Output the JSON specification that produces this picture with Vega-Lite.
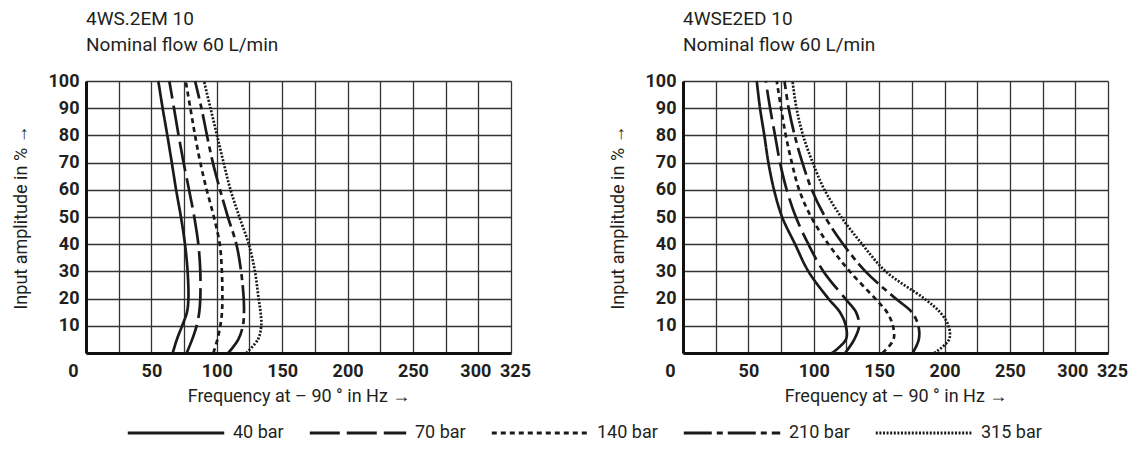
{
"$schema": "https://vega.github.io/schema/vega-lite/v6.json",
"background": "white",
"padding": {"left": 12, "top": 10, "right": 5, "bottom": 5},
"datasets": {"curves": [
{"c":"L","s":"40 bar","a":100,"f":55.3},{"c":"L","s":"40 bar","a":90,"f":58.6},{"c":"L","s":"40 bar","a":80,"f":62.2},{"c":"L","s":"40 bar","a":70,"f":65.6},{"c":"L","s":"40 bar","a":60,"f":68.9},{"c":"L","s":"40 bar","a":50,"f":72.6},{"c":"L","s":"40 bar","a":40,"f":75.7},{"c":"L","s":"40 bar","a":30,"f":77.7},{"c":"L","s":"40 bar","a":20,"f":78.3},{"c":"L","s":"40 bar","a":15,"f":77.2},{"c":"L","s":"40 bar","a":10,"f":73.5},{"c":"L","s":"40 bar","a":5,"f":69.5},{"c":"L","s":"40 bar","a":0,"f":66.3},
{"c":"L","s":"70 bar","a":100,"f":63.7},{"c":"L","s":"70 bar","a":90,"f":67.3},{"c":"L","s":"70 bar","a":80,"f":70.8},{"c":"L","s":"70 bar","a":70,"f":74.6},{"c":"L","s":"70 bar","a":60,"f":78.8},{"c":"L","s":"70 bar","a":50,"f":82.8},{"c":"L","s":"70 bar","a":40,"f":85.9},{"c":"L","s":"70 bar","a":30,"f":87.4},{"c":"L","s":"70 bar","a":20,"f":87.4},{"c":"L","s":"70 bar","a":15,"f":86.6},{"c":"L","s":"70 bar","a":10,"f":84.6},{"c":"L","s":"70 bar","a":5,"f":81.2},{"c":"L","s":"70 bar","a":0,"f":77},
{"c":"L","s":"140 bar","a":100,"f":76.2},{"c":"L","s":"140 bar","a":90,"f":79.8},{"c":"L","s":"140 bar","a":80,"f":83.4},{"c":"L","s":"140 bar","a":70,"f":87.4},{"c":"L","s":"140 bar","a":60,"f":92.3},{"c":"L","s":"140 bar","a":50,"f":97.8},{"c":"L","s":"140 bar","a":40,"f":102.3},{"c":"L","s":"140 bar","a":30,"f":103.9},{"c":"L","s":"140 bar","a":20,"f":104.3},{"c":"L","s":"140 bar","a":15,"f":104},{"c":"L","s":"140 bar","a":10,"f":102.7},{"c":"L","s":"140 bar","a":5,"f":100.5},{"c":"L","s":"140 bar","a":0,"f":97.4},
{"c":"L","s":"210 bar","a":100,"f":83.4},{"c":"L","s":"210 bar","a":90,"f":88.3},{"c":"L","s":"210 bar","a":80,"f":92.5},{"c":"L","s":"210 bar","a":70,"f":97},{"c":"L","s":"210 bar","a":60,"f":102.5},{"c":"L","s":"210 bar","a":50,"f":108.5},{"c":"L","s":"210 bar","a":40,"f":115},{"c":"L","s":"210 bar","a":30,"f":118.6},{"c":"L","s":"210 bar","a":20,"f":120.6},{"c":"L","s":"210 bar","a":15,"f":120.8},{"c":"L","s":"210 bar","a":10,"f":120},{"c":"L","s":"210 bar","a":5,"f":116.5},{"c":"L","s":"210 bar","a":0,"f":108.8},
{"c":"L","s":"315 bar","a":100,"f":90.2},{"c":"L","s":"315 bar","a":90,"f":95.2},{"c":"L","s":"315 bar","a":80,"f":100.2},{"c":"L","s":"315 bar","a":70,"f":105.2},{"c":"L","s":"315 bar","a":60,"f":110.5},{"c":"L","s":"315 bar","a":50,"f":117.3},{"c":"L","s":"315 bar","a":40,"f":124.5},{"c":"L","s":"315 bar","a":30,"f":129.2},{"c":"L","s":"315 bar","a":20,"f":132},{"c":"L","s":"315 bar","a":15,"f":133.5},{"c":"L","s":"315 bar","a":10,"f":134},{"c":"L","s":"315 bar","a":5,"f":131.5},{"c":"L","s":"315 bar","a":0,"f":122.6},
{"c":"R","s":"40 bar","a":100,"f":56.4},{"c":"R","s":"40 bar","a":90,"f":58.9},{"c":"R","s":"40 bar","a":80,"f":62.2},{"c":"R","s":"40 bar","a":70,"f":65.3},{"c":"R","s":"40 bar","a":60,"f":69.6},{"c":"R","s":"40 bar","a":50,"f":75.8},{"c":"R","s":"40 bar","a":40,"f":85.7},{"c":"R","s":"40 bar","a":30,"f":95.9},{"c":"R","s":"40 bar","a":20,"f":111.2},{"c":"R","s":"40 bar","a":15,"f":120},{"c":"R","s":"40 bar","a":10,"f":124.5},{"c":"R","s":"40 bar","a":5,"f":124.6},{"c":"R","s":"40 bar","a":0,"f":114},
{"c":"R","s":"70 bar","a":100,"f":63.3},{"c":"R","s":"70 bar","a":90,"f":66.6},{"c":"R","s":"70 bar","a":80,"f":70.4},{"c":"R","s":"70 bar","a":70,"f":74.2},{"c":"R","s":"70 bar","a":60,"f":79.3},{"c":"R","s":"70 bar","a":50,"f":86.3},{"c":"R","s":"70 bar","a":40,"f":95.9},{"c":"R","s":"70 bar","a":30,"f":107.4},{"c":"R","s":"70 bar","a":20,"f":124},{"c":"R","s":"70 bar","a":15,"f":132.3},{"c":"R","s":"70 bar","a":10,"f":134.7},{"c":"R","s":"70 bar","a":5,"f":131},{"c":"R","s":"70 bar","a":0,"f":124},
{"c":"R","s":"140 bar","a":100,"f":71.7},{"c":"R","s":"140 bar","a":90,"f":75},{"c":"R","s":"140 bar","a":80,"f":78.6},{"c":"R","s":"140 bar","a":70,"f":83.2},{"c":"R","s":"140 bar","a":60,"f":88.8},{"c":"R","s":"140 bar","a":50,"f":98},{"c":"R","s":"140 bar","a":40,"f":111.2},{"c":"R","s":"140 bar","a":30,"f":127.5},{"c":"R","s":"140 bar","a":20,"f":147},{"c":"R","s":"140 bar","a":15,"f":156},{"c":"R","s":"140 bar","a":10,"f":160.5},{"c":"R","s":"140 bar","a":5,"f":161},{"c":"R","s":"140 bar","a":0,"f":152.6},
{"c":"R","s":"210 bar","a":100,"f":77.6},{"c":"R","s":"210 bar","a":90,"f":80.8},{"c":"R","s":"210 bar","a":80,"f":85.4},{"c":"R","s":"210 bar","a":70,"f":91.3},{"c":"R","s":"210 bar","a":60,"f":98.5},{"c":"R","s":"210 bar","a":50,"f":108.7},{"c":"R","s":"210 bar","a":40,"f":122.5},{"c":"R","s":"210 bar","a":30,"f":139.5},{"c":"R","s":"210 bar","a":20,"f":162.6},{"c":"R","s":"210 bar","a":15,"f":175},{"c":"R","s":"210 bar","a":10,"f":180},{"c":"R","s":"210 bar","a":5,"f":180.3},{"c":"R","s":"210 bar","a":0,"f":175.6},
{"c":"R","s":"315 bar","a":100,"f":83.7},{"c":"R","s":"315 bar","a":90,"f":86.8},{"c":"R","s":"315 bar","a":80,"f":91.8},{"c":"R","s":"315 bar","a":70,"f":99.2},{"c":"R","s":"315 bar","a":60,"f":108.2},{"c":"R","s":"315 bar","a":50,"f":121},{"c":"R","s":"315 bar","a":40,"f":137},{"c":"R","s":"315 bar","a":30,"f":155},{"c":"R","s":"315 bar","a":20,"f":184.5},{"c":"R","s":"315 bar","a":15,"f":196.5},{"c":"R","s":"315 bar","a":10,"f":203},{"c":"R","s":"315 bar","a":5,"f":203.5},{"c":"R","s":"315 bar","a":0,"f":192.3}
]},
"hconcat": [
{
"width": 425, "height": 272,
"title": {"text": "4WS.2EM 10", "subtitle": "Nominal flow 60 L/min"},
"data": {"name": "curves"},
"transform": [{"filter": "datum.c == 'L'"}],
"mark": {"type": "line", "interpolate": "catmull-rom", "color": "#1a1a1a", "strokeWidth": 2.7},
"encoding": {
"x": {"field": "f", "type": "quantitative", "scale": {"domain": [0, 325], "nice": false, "zero": false}, "axis": {"title": "Frequency at – 90 ° in Hz →", "values": [0, 25, 50, 75, 100, 125, 150, 175, 200, 225, 250, 275, 300, 325], "labelExpr": "datum.value % 50 == 0 || datum.value == 325 ? datum.label : ''", "labelOverlap": false, "labelSeparation": 0, "labelAlign": {"condition": {"test": "datum.value == 0", "value": "right"}, "value": "center"}, "labelOffset": {"condition": [{"test": "datum.value == 0", "value": -8}, {"test": "datum.value == 300", "value": -3}, {"test": "datum.value == 325", "value": 4}], "value": 0}}},
"y": {"field": "a", "type": "quantitative", "scale": {"domain": [0, 100], "nice": false}, "axis": {"title": "Input amplitude in % →", "values": [0, 10, 20, 30, 40, 50, 60, 70, 80, 90, 100], "labelExpr": "datum.value == 0 ? '' : datum.label", "labelOverlap": false, "labelSeparation": 0}},
"strokeDash": {"field": "s", "type": "nominal", "scale": {"domain": ["40 bar", "70 bar", "140 bar", "210 bar", "315 bar"], "range": [[1, 0], [30, 7], [5, 4], [28, 5, 6, 5], [2, 1.6]]}},
"order": {"field": "a", "type": "quantitative"}
}
},
{
"width": 425, "height": 272,
"title": {"text": "4WSE2ED 10", "subtitle": "Nominal flow 60 L/min"},
"data": {"name": "curves"},
"transform": [{"filter": "datum.c == 'R'"}],
"mark": {"type": "line", "interpolate": "catmull-rom", "color": "#1a1a1a", "strokeWidth": 2.7},
"encoding": {
"x": {"field": "f", "type": "quantitative", "scale": {"domain": [0, 325], "nice": false, "zero": false}, "axis": {"title": "Frequency at – 90 ° in Hz →", "values": [0, 25, 50, 75, 100, 125, 150, 175, 200, 225, 250, 275, 300, 325], "labelExpr": "datum.value % 50 == 0 || datum.value == 325 ? datum.label : ''", "labelOverlap": false, "labelSeparation": 0, "labelAlign": {"condition": {"test": "datum.value == 0", "value": "right"}, "value": "center"}, "labelOffset": {"condition": [{"test": "datum.value == 0", "value": -8}, {"test": "datum.value == 300", "value": -3}, {"test": "datum.value == 325", "value": 4}], "value": 0}}},
"y": {"field": "a", "type": "quantitative", "scale": {"domain": [0, 100], "nice": false}, "axis": {"title": "Input amplitude in % →", "values": [0, 10, 20, 30, 40, 50, 60, 70, 80, 90, 100], "labelExpr": "datum.value == 0 ? '' : datum.label", "labelOverlap": false, "labelSeparation": 0}},
"strokeDash": {"field": "s", "type": "nominal", "scale": {"domain": ["40 bar", "70 bar", "140 bar", "210 bar", "315 bar"], "range": [[1, 0], [30, 7], [5, 4], [28, 5, 6, 5], [2, 1.6]]}},
"order": {"field": "a", "type": "quantitative"}
}
}
],
"spacing": 172,
"bounds": "flush",
"resolve": {"scale": {"strokeDash": "shared"}, "legend": {"strokeDash": "shared"}},
"config": {
"font": "Roboto",
"view": {"stroke": null},
"title": {"anchor": "start", "frame": "group", "font": "Roboto", "fontSize": 19, "fontWeight": "normal", "color": "#231f20", "subtitleFont": "Roboto", "subtitleFontSize": 19, "subtitleColor": "#231f20", "subtitlePadding": 7, "offset": 17},
"axis": {"grid": true, "gridColor": "#333333", "gridWidth": 1.3, "gridOpacity": 1, "domainColor": "#111111", "domainWidth": 3, "ticks": false, "labelFont": "Roboto", "labelFontWeight": "bold", "labelFontSize": 18, "labelColor": "#231f20", "labelFlush": false, "labelBound": false, "titleFont": "Roboto", "titleFontWeight": "normal", "titleFontSize": 18, "titleColor": "#231f20"},
"axisX": {"labelPadding": 9, "titlePadding": 7},
"axisY": {"labelPadding": 7, "titlePadding": 18},
"legend": {"orient": "none", "legendX": 40, "legendY": 302, "direction": "horizontal", "columns": 5, "title": null, "symbolType": "stroke", "symbolSize": 9300, "symbolStrokeWidth": 3, "symbolStrokeColor": "#1a1a1a", "labelFont": "Roboto", "labelFontSize": 18, "labelColor": "#231f20", "labelOffset": 7, "columnPadding": 19}
}
}
